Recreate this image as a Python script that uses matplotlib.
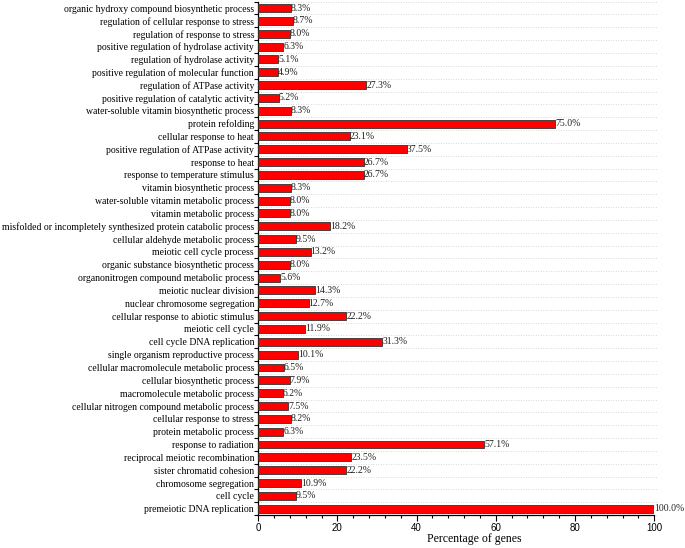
import matplotlib
matplotlib.use('Agg')
import matplotlib.pyplot as plt
import numpy as np
from matplotlib.ticker import MultipleLocator, FixedLocator

terms = [
    'organic hydroxy compound biosynthetic process',
    'regulation of cellular response to stress',
    'regulation of response to stress',
    'positive regulation of hydrolase activity',
    'regulation of hydrolase activity',
    'positive regulation of molecular function',
    'regulation of ATPase activity',
    'positive regulation of catalytic activity',
    'water-soluble vitamin biosynthetic process',
    'protein refolding',
    'cellular response to heat',
    'positive regulation of ATPase activity',
    'response to heat',
    'response to temperature stimulus',
    'vitamin biosynthetic process',
    'water-soluble vitamin metabolic process',
    'vitamin metabolic process',
    'misfolded or incompletely synthesized protein catabolic process',
    'cellular aldehyde metabolic process',
    'meiotic cell cycle process',
    'organic substance biosynthetic process',
    'organonitrogen compound metabolic process',
    'meiotic nuclear division',
    'nuclear chromosome segregation',
    'cellular response to abiotic stimulus',
    'meiotic cell cycle',
    'cell cycle DNA replication',
    'single organism reproductive process',
    'cellular macromolecule metabolic process',
    'cellular biosynthetic process',
    'macromolecule metabolic process',
    'cellular nitrogen compound metabolic process',
    'cellular response to stress',
    'protein metabolic process',
    'response to radiation',
    'reciprocal meiotic recombination',
    'sister chromatid cohesion',
    'chromosome segregation',
    'cell cycle',
    'premeiotic DNA replication',
]
percent = [8.3, 8.7, 8.0, 6.3, 5.1, 4.9, 27.3, 5.2, 8.3, 75.0,
           23.1, 37.5, 26.7, 26.7, 8.3, 8.0, 8.0, 18.2, 9.5, 13.2,
           8.0, 5.6, 14.3, 12.7, 22.2, 11.9, 31.3, 10.1, 6.5, 7.9,
           6.2, 7.5, 8.2, 6.3, 57.1, 23.5, 22.2, 10.9, 9.5, 100.0]

n = len(terms)
ypos = np.arange(n)[::-1]

fig = plt.figure(figsize=(6.85, 5.48), dpi=100)
ax = fig.add_axes([0.377, 0.060, 0.578, 0.937])

ax.barh(ypos, percent, height=0.62, color='#ff0000', edgecolor='#333333', linewidth=0.6, zorder=3)
for y, v in zip(ypos, percent):
    ax.text(v, y, '%.1f%%' % v, va='center', ha='left', fontsize=7,
            family='Liberation Serif', color='#222222', zorder=4)

# dotted separators between categories
for b in np.arange(-0.5, n, 1.0):
    ax.plot([0, 101], [b, b], linestyle=(0, (1, 2)), color='#cccccc', linewidth=0.6,
            clip_on=False, zorder=1)

ax.set_xlim(0, 100)
ax.set_ylim(-0.5, n - 0.5)
ax.set_yticks(ypos)
ax.set_yticklabels(terms, family='Liberation Serif', fontsize=7)
ax.tick_params(axis='y', which='major', length=0, pad=3)
ax.yaxis.set_minor_locator(FixedLocator(np.arange(-0.5, n, 1.0)))
ax.tick_params(axis='y', which='minor', length=3, width=0.8, direction='out')

ax.xaxis.set_major_locator(MultipleLocator(20))
ax.xaxis.set_minor_locator(MultipleLocator(4))
ax.tick_params(axis='x', which='major', length=4, width=0.8, labelsize=7, direction='out', pad=2)
ax.tick_params(axis='x', which='minor', length=2, width=0.8, direction='out')
for lab in ax.get_xticklabels():
    lab.set_family('Liberation Sans')
ax.set_xlabel('Percentage of genes', family='Liberation Serif', fontsize=8.5)
ax.xaxis.set_label_coords(0.545, -0.035)

ax.spines['top'].set_visible(False)
ax.spines['right'].set_visible(False)
ax.spines['left'].set_linewidth(0.9)
ax.spines['bottom'].set_linewidth(0.9)

fig.savefig('out.png', dpi=100)
